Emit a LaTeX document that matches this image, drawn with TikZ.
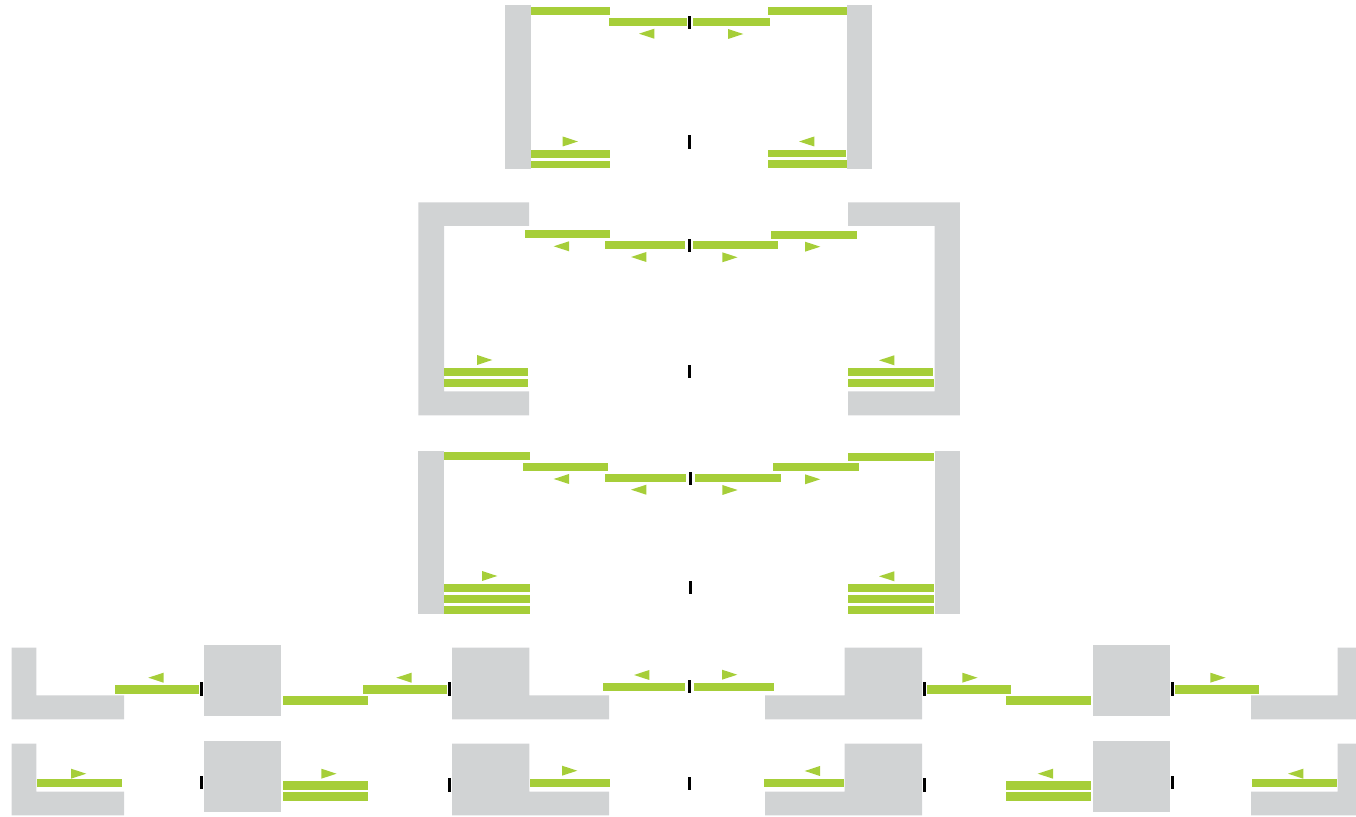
\documentclass[tikz,border=0pt]{standalone}
\usepackage{tikz}

\definecolor{wallGray}{HTML}{D1D3D4}
\definecolor{leafGreen}{HTML}{A6CE39}

\begin{document}
\begin{tikzpicture}[x=0.5pt, y=-0.5pt, line cap=butt, line join=miter]

% ---------------- styles ----------------
\tikzset{
  doorWall/.style ={fill=wallGray},
  doorLeaf/.style ={fill=leafGreen},
  doorMove/.style ={fill=leafGreen},
  doorStop/.style ={fill=black}
}

% ---------------- parameters (tune once) ----------------
\def\TipL{15.3}  % arrow length
\def\TipH{5}     % arrow half height
\def\StopW{3}    % stop bar width
\def\StopH{13.4} % stop bar height

% helper: leaf from corner to corner
\newcommand{\Leaf}[4]{\path[doorLeaf] (#1,#2) rectangle (#3,#4);}
% helper: wall from corner to corner
\newcommand{\Wall}[4]{\path[doorWall] (#1,#2) rectangle (#3,#4);}
% helper: stop bar, left edge x and top y
\newcommand{\StopBar}[2]{\path[doorStop] (#1,#2) rectangle ++(\StopW,\StopH);}
% helper: arrow pointing left, tip x and centre y
\newcommand{\MoveL}[2]{\path[doorMove] (#1,#2) -- ++(\TipL,-\TipH) -- ++(0,2*\TipH) -- cycle;}
% helper: arrow pointing right, base x and centre y
\newcommand{\MoveR}[2]{\path[doorMove] (#1,#2-\TipH) -- ++(\TipL,\TipH) -- ++(-\TipL,\TipH) -- cycle;}

\useasboundingbox (0,0) rectangle (1356,817);

% ---------------- panel 1 (two leaves each side) ----------------
\Wall{505}{5}{531}{169}
\Wall{846.7}{5}{872}{169}
\Leaf{531}{7}{610.3}{15}
\Leaf{609}{17.7}{686.7}{26}
\Leaf{692.7}{18}{770}{26}
\Leaf{768}{7.3}{846.7}{15.3}
\StopBar{688}{15.7}
\StopBar{688}{135.3}
\MoveL{639}{33.7}
\MoveR{728}{34}
\MoveR{562.7}{141.5}
\MoveL{799}{141.5}
\Leaf{531}{149.7}{610.3}{157.7}
\Leaf{531}{160.7}{610.3}{168.3}
\Leaf{768}{149.7}{846}{157.3}
\Leaf{768}{160.3}{846.7}{168.3}

% ---------------- panel 2 (walls with returns) ----------------
\path[doorWall] (418.3,202.3) -- (529,202.3) -- (529,226) -- (444,226) -- (444,391.3)
  -- (529,391.3) -- (529,415.3) -- (418.3,415.3) -- cycle;
\path[doorWall] (959.8,202.3) -- (848,202.3) -- (848,226) -- (934.7,226) -- (934.7,391.3)
  -- (848,391.3) -- (848,415.3) -- (959.8,415.3) -- cycle;
\Leaf{525}{230.3}{610.3}{238.3}
\Leaf{605}{241.3}{685}{249.3}
\Leaf{693}{241.3}{778.3}{249.3}
\Leaf{771}{230.7}{857}{238.7}
\StopBar{688}{238.8}
\StopBar{688}{365}
\MoveL{553.7}{246.3}
\MoveL{631}{257}
\MoveR{722.3}{257.3}
\MoveR{805}{246.7}
\MoveR{477}{360}
\MoveL{879}{360.3}
\Leaf{444}{368.3}{527.7}{376.3}
\Leaf{444}{379}{527.7}{387}
\Leaf{848}{368.3}{933}{376.3}
\Leaf{848}{379}{934}{387}

% ---------------- panel 3 (three leaves each side) ----------------
\Wall{418.3}{450.7}{444}{614.3}
\Wall{934.7}{450.7}{960}{614.3}
\Leaf{444}{452.3}{530}{460.3}
\Leaf{523}{463}{607.7}{471}
\Leaf{605}{473.7}{685.7}{481.7}
\Leaf{695}{473.7}{781}{481.7}
\Leaf{773.3}{463.3}{859}{471.3}
\Leaf{848}{452.7}{934}{460.7}
\StopBar{689}{472}
\StopBar{689}{581}
\MoveL{553.7}{479}
\MoveL{631}{489.7}
\MoveR{722.3}{490}
\MoveR{805}{479.3}
\MoveR{482}{576}
\MoveL{879}{576.3}
\foreach \yLeaf in {584.3,595,605.7} {
  \Leaf{444}{\yLeaf}{530}{\yLeaf+8}
  \Leaf{848}{\yLeaf}{934}{\yLeaf+8}
}

% ---------------- row 4 and row 5 (same walls, y0 = top of L) ----------------
\foreach \yTop/\yFoot/\yEnd/\yBlock/\yBlockEnd in {647.7/695.3/719.3/644.7/716.3, 743.7/791.7/815.3/741/812.3} {
  \path[doorWall] (11.7,\yTop) -- (36.3,\yTop) -- (36.3,\yFoot) -- (124,\yFoot) -- (124,\yEnd) -- (11.7,\yEnd) -- cycle;
  \path[doorWall] (1356,\yTop) -- (1337.7,\yTop) -- (1337.7,\yFoot) -- (1251,\yFoot) -- (1251,\yEnd) -- (1356,\yEnd) -- cycle;
  \Wall{204}{\yBlock}{281.3}{\yBlockEnd}
  \Wall{1093}{\yBlock}{1170}{\yBlockEnd}
  \path[doorWall] (452,\yTop) -- (529.3,\yTop) -- (529.3,\yFoot) -- (609,\yFoot) -- (609,\yEnd) -- (452,\yEnd) -- cycle;
  \path[doorWall] (922,\yTop) -- (844.7,\yTop) -- (844.7,\yFoot) -- (765,\yFoot) -- (765,\yEnd) -- (922,\yEnd) -- cycle;
}

% row 4 leaves
\Leaf{115}{685.3}{199.3}{694}
\Leaf{283}{696}{367.7}{704.7}
\Leaf{363}{685.3}{447.3}{694}
\Leaf{603}{683}{685}{691}
\Leaf{693.7}{683}{774}{691}
\Leaf{926.7}{685.3}{1011}{694}
\Leaf{1006.3}{696}{1091}{704.7}
\Leaf{1174.7}{685.3}{1259}{694}
% row 4 stops
\foreach \xStop in {200,448,923,1171} {
  \StopBar{\xStop}{682.3}
}
\StopBar{688}{679.7}
% row 4 arrows
\MoveL{148.3}{677.7}
\MoveL{396.3}{677.7}
\MoveL{634}{675}
\MoveR{722}{674.7}
\MoveR{962.3}{677.7}
\MoveR{1210.3}{677.7}

% row 5 leaves
\Leaf{36.7}{779}{122.3}{787}
\Leaf{283}{781.3}{367.7}{790}
\Leaf{283}{792}{367.7}{800.7}
\Leaf{530}{779}{610}{787.3}
\Leaf{764}{778.7}{844}{787}
\Leaf{1006.3}{781.3}{1091}{790}
\Leaf{1006.3}{792}{1091}{800.7}
\Leaf{1252}{779}{1337}{787}
% row 5 stops
\StopBar{200}{775.7}
\StopBar{448}{778.3}
\StopBar{688}{776.7}
\StopBar{923}{778.3}
\StopBar{1171}{775.7}
% row 5 arrows
\MoveR{71}{773.7}
\MoveR{321.3}{773.7}
\MoveR{562}{770.7}
\MoveL{804.7}{771}
\MoveL{1037.7}{773.7}
\MoveL{1288}{773.7}

\end{tikzpicture}
\end{document}
